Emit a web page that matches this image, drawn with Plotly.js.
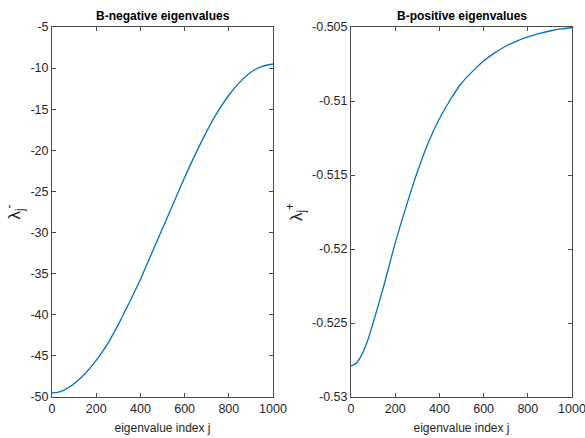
<!DOCTYPE html>
<html>
<head>
<meta charset="utf-8">
<script src="https://cdn.plot.ly/plotly-3.0.1.min.js"></script>
<style>html,body{margin:0;padding:0;background:#fff;}#chart{width:585px;height:438px;}</style>
</head>
<body>
<div id="chart"></div>
<script>
// eigenvalue index samples
const indexJ = [0, 25, 50, 75, 100, 150, 200, 250, 300, 350, 400, 450, 500, 550, 600, 650, 700, 750, 800, 850, 900, 950, 1000];
// B-negative eigenvalues
const negEig = [-49.5, -49.44, -49.22, -48.85, -48.4, -47.15, -45.55, -43.6, -41.2, -38.5, -35.7, -32.6, -29.5, -26.4, -23.3, -20.4, -17.7, -15.3, -13.3, -11.7, -10.5, -9.8, -9.5];
// B-positive eigenvalues
const posEig = [-0.5279, -0.5277, -0.5271, -0.5262, -0.5250, -0.5224, -0.5196, -0.5171, -0.5148, -0.5128, -0.5112, -0.5099, -0.5088, -0.5080, -0.5073, -0.50675, -0.5063, -0.50595, -0.50567, -0.50545, -0.50527, -0.50513, -0.50505];

const xTickVals = [0, 200, 400, 600, 800, 1000];
const xTickText = ['0', '200', '400', '600', '800', '1000'];
const negTickVals = [-50, -45, -40, -35, -30, -25, -20, -15, -10, -5];
const negTickText = ['-50', '-45', '-40', '-35', '-30', '-25', '-20', '-15', '-10', '-5'];
const posTickVals = [-0.53, -0.525, -0.52, -0.515, -0.51, -0.505];
const posTickText = ['-0.53', '-0.525', '-0.52', '-0.515', '-0.51', '-0.505'];

const FONT = 'Liberation Sans, Arial, sans-serif';
const AX = '#4a4a4a';
const TXT = '#262626';
const W = 585, H = 438;

const traces = [
  {x: indexJ, y: negEig, type: 'scatter', mode: 'lines', line: {color: '#0072BD', width: 1.3, shape: 'spline', smoothing: 0.8}, xaxis: 'x', yaxis: 'y', hoverinfo: 'skip'},
  {x: indexJ, y: posEig, type: 'scatter', mode: 'lines', line: {color: '#0072BD', width: 1.3, shape: 'spline', smoothing: 0.8}, xaxis: 'x2', yaxis: 'y2', hoverinfo: 'skip'}
];

function xAxis(dom, anchor) {
  return {
    domain: dom, anchor: anchor, range: [0, 1000], tickvals: xTickVals, ticktext: xTickText,
    ticks: 'inside', ticklen: 4, tickcolor: AX, tickwidth: 1,
    showline: true, linecolor: AX, linewidth: 1, mirror: 'allticks',
    showgrid: false, zeroline: false, ticklabeloverflow: 'allow',
    tickfont: {family: FONT, size: 12.5, color: TXT},
    title: {text: 'eigenvalue index j', font: {family: FONT, size: 12, color: TXT}, standoff: 8}
  };
}
function yAxis(dom, anchor, rng, tv, tt, label) {
  return {
    domain: dom, anchor: anchor, range: rng, tickvals: tv, ticktext: tt,
    ticks: 'inside', ticklen: 4, tickcolor: AX, tickwidth: 1,
    showline: true, linecolor: AX, linewidth: 1, mirror: 'allticks',
    showgrid: false, zeroline: false, ticklabeloverflow: 'allow',
    tickfont: {family: FONT, size: 12.5, color: TXT},
    title: {text: label, font: {family: FONT, size: 17, color: TXT}, standoff: 5}
  };
}

const yDom = [41 / H, 411 / H];
const layout = {
  width: W, height: H,
  margin: {l: 0, r: 0, t: 0, b: 0},
  paper_bgcolor: '#fff', plot_bgcolor: '#fff',
  showlegend: false,
  xaxis: xAxis([52 / W, 273 / W], 'y'),
  yaxis: yAxis(yDom, 'x', [-50, -5], negTickVals, negTickText, 'λ<sub>j</sub><sup>-</sup>'),
  xaxis2: xAxis([351 / W, 572 / W], 'y2'),
  yaxis2: yAxis(yDom, 'x2', [-0.53, -0.505], posTickVals, posTickText, 'λ<sub>j</sub><sup>+</sup>'),
  annotations: [
    {text: '<b>B-negative eigenvalues</b>', x: 162.5 / W, y: (H - 16) / H, xref: 'paper', yref: 'paper', showarrow: false, xanchor: 'center', yanchor: 'middle', font: {family: FONT, size: 12, color: '#000'}},
    {text: '<b>B-positive eigenvalues</b>', x: 461.5 / W, y: (H - 16) / H, xref: 'paper', yref: 'paper', showarrow: false, xanchor: 'center', yanchor: 'middle', font: {family: FONT, size: 12, color: '#000'}}
  ]
};

Plotly.newPlot('chart', traces, layout, {staticPlot: true, displayModeBar: false});
</script>
</body>
</html>
